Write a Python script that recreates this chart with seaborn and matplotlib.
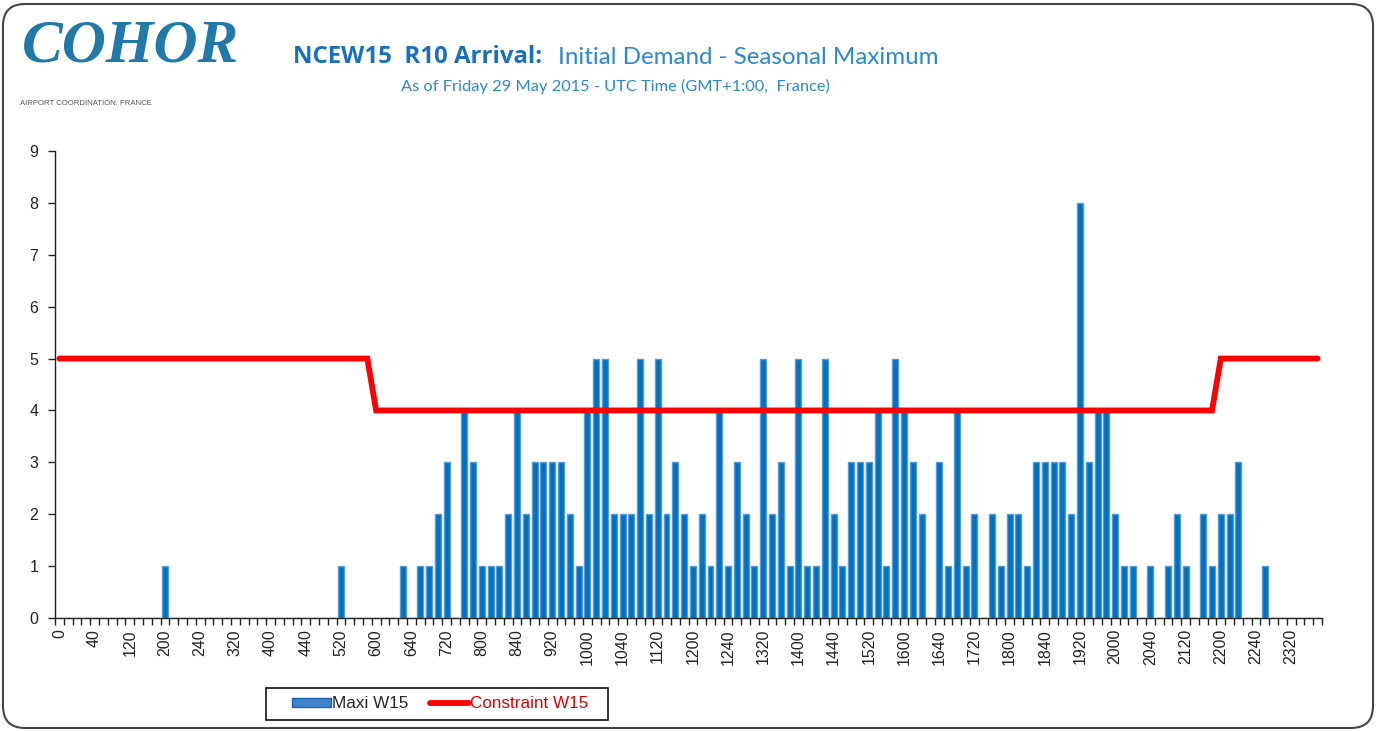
import numpy as np
import pandas as pd
import seaborn as sns
import matplotlib.pyplot as plt
from matplotlib.patches import FancyBboxPatch, Patch, Rectangle
from matplotlib.lines import Line2D

# 10-minute slots, labelled hhmm without leading zeros (0, 10, ..., 50, 100, ...)
times = [f"{h * 100 + m}" for h in range(24) for m in range(0, 60, 10)]

maxi_w15 = [
    0, 0, 0, 0, 0, 0, 0, 0, 0, 0, 0, 0,
    1, 0, 0, 0, 0, 0, 0, 0, 0, 0, 0, 0,
    0, 0, 0, 0, 0, 0, 0, 0, 1, 0, 0, 0,
    0, 0, 0, 1, 0, 1, 1, 2, 3, 0, 4, 3,
    1, 1, 1, 2, 4, 2, 3, 3, 3, 3, 2, 1,
    4, 5, 5, 2, 2, 2, 5, 2, 5, 2, 3, 2,
    1, 2, 1, 4, 1, 3, 2, 1, 5, 2, 3, 1,
    5, 1, 1, 5, 2, 1, 3, 3, 3, 4, 1, 5,
    4, 3, 2, 0, 3, 1, 4, 1, 2, 0, 2, 1,
    2, 2, 1, 3, 3, 3, 3, 2, 8, 3, 4, 4,
    2, 1, 1, 0, 1, 0, 1, 2, 1, 0, 2, 1,
    2, 2, 3, 0, 0, 1, 0, 0, 0, 0, 0, 0,
]

constraint_w15 = [
    5, 5, 5, 5, 5, 5, 5, 5, 5, 5, 5, 5,
    5, 5, 5, 5, 5, 5, 5, 5, 5, 5, 5, 5,
    5, 5, 5, 5, 5, 5, 5, 5, 5, 5, 5, 5,
    4, 4, 4, 4, 4, 4, 4, 4, 4, 4, 4, 4,
    4, 4, 4, 4, 4, 4, 4, 4, 4, 4, 4, 4,
    4, 4, 4, 4, 4, 4, 4, 4, 4, 4, 4, 4,
    4, 4, 4, 4, 4, 4, 4, 4, 4, 4, 4, 4,
    4, 4, 4, 4, 4, 4, 4, 4, 4, 4, 4, 4,
    4, 4, 4, 4, 4, 4, 4, 4, 4, 4, 4, 4,
    4, 4, 4, 4, 4, 4, 4, 4, 4, 4, 4, 4,
    4, 4, 4, 4, 4, 4, 4, 4, 4, 4, 4, 4,
    5, 5, 5, 5, 5, 5, 5, 5, 5, 5, 5, 5,
]

df = pd.DataFrame({'time': times, 'maxi': maxi_w15, 'constraint': constraint_w15})

sns.set_style('white')
plt.rcParams['font.family'] = ['Liberation Sans', 'DejaVu Sans']

W, H = 1378, 731
fig = plt.figure(figsize=(W / 100, H / 100), dpi=100)

# rounded frame round the whole picture
fig.patches.append(FancyBboxPatch((0.03, 0.03), W / 100 - 0.08, H / 100 - 0.07,
                                  boxstyle='round,pad=0,rounding_size=0.22',
                                  transform=fig.dpi_scale_trans, fill=False,
                                  edgecolor='#444444', linewidth=1.5))

ax = fig.add_axes([55 / W, 1 - 618 / H, (1322 - 55) / W, (618 - 151) / H])

sns.barplot(data=df, x='time', y='maxi', color='#0070c0', width=0.68,
            edgecolor='#5b9bd5', linewidth=1, saturation=1, ax=ax, zorder=2)
sns.lineplot(x=np.arange(len(times)), y=df['constraint'], color='#ff0000',
             linewidth=4.2, ax=ax, legend=False, zorder=3,
             solid_capstyle='round', solid_joinstyle='miter')

ax.set_xlim(-0.5, len(times) - 0.5)
ax.set_ylim(0, 9)
ax.set_yticks(range(0, 10))
ax.set_xticks(range(0, len(times), 4))
ax.set_xticklabels(times[::4], rotation=90)
ax.set_xticks(np.arange(-0.5, len(times), 1), minor=True)
ax.set_xlabel('')
ax.set_ylabel('')

ax.tick_params(axis='x', which='major', bottom=True, length=0, pad=8,
               labelsize=11.5, labelcolor='#222222')
ax.tick_params(axis='x', which='minor', bottom=True, length=5, width=1,
               color='#222222')
ax.tick_params(axis='y', left=True, length=5, width=1, color='#222222',
               pad=7, labelsize=11.5, labelcolor='#222222')

sns.despine(ax=ax)
for s in ('left', 'bottom'):
    ax.spines[s].set_color('#222222')
    ax.spines[s].set_linewidth(1)

# logo
fig.text(22 / W, 1 - 47 / H, 'COHOR', fontsize=44, fontstyle='italic',
         fontweight='bold', family=['Liberation Serif', 'DejaVu Serif'],
         color='#2079a8', va='center', ha='left')
fig.text(20 / W, 1 - 103 / H, 'AIRPORT COORDINATION, FRANCE', fontsize=5.6,
         color='#555555', va='center', ha='left')

# titles
fig.text(293 / W, 1 - 57 / H, 'NCEW15  R10 Arrival:', fontsize=17.3,
         fontweight='bold', family=['Open Sans', 'DejaVu Sans'], color='#1a6fbf',
         va='center', ha='left')
fig.text(558 / W, 1 - 57 / H, 'Initial Demand - Seasonal Maximum',
         fontsize=17.4, family=['Lato', 'DejaVu Sans'], color='#2a88d8',
         va='center', ha='left')
fig.text(615 / W, 1 - 86 / H,
         'As of Friday 29 May 2015 - UTC Time (GMT+1:00,  France)',
         fontsize=11.8, family=['Lato', 'DejaVu Sans'], color='#2a88d8',
         va='center', ha='center')

# legend box drawn separately so its padding can match
fig.patches.append(Rectangle((266 / W, 1 - 720 / H), (608 - 266) / W, 32 / H,
                             transform=fig.transFigure, fill=False,
                             edgecolor='#111111', linewidth=1.2))
handles = [Patch(facecolor='#3f83cc', edgecolor='#1f63b0', linewidth=1),
           Line2D([0], [0], color='#ff0000', linewidth=4.2,
                  solid_capstyle='round')]
leg = fig.legend(handles, ['Maxi W15', 'Constraint W15'], loc='center',
                 bbox_to_anchor=(440 / W, 1 - 704 / H), ncol=2, fontsize=12.3,
                 frameon=False, handlelength=2.3, handleheight=0.5,
                 handletextpad=0.05, columnspacing=1.3, borderpad=0,
                 borderaxespad=0)
leg.get_texts()[1].set_color('#e00000')

fig.savefig('out.png', dpi=100)
